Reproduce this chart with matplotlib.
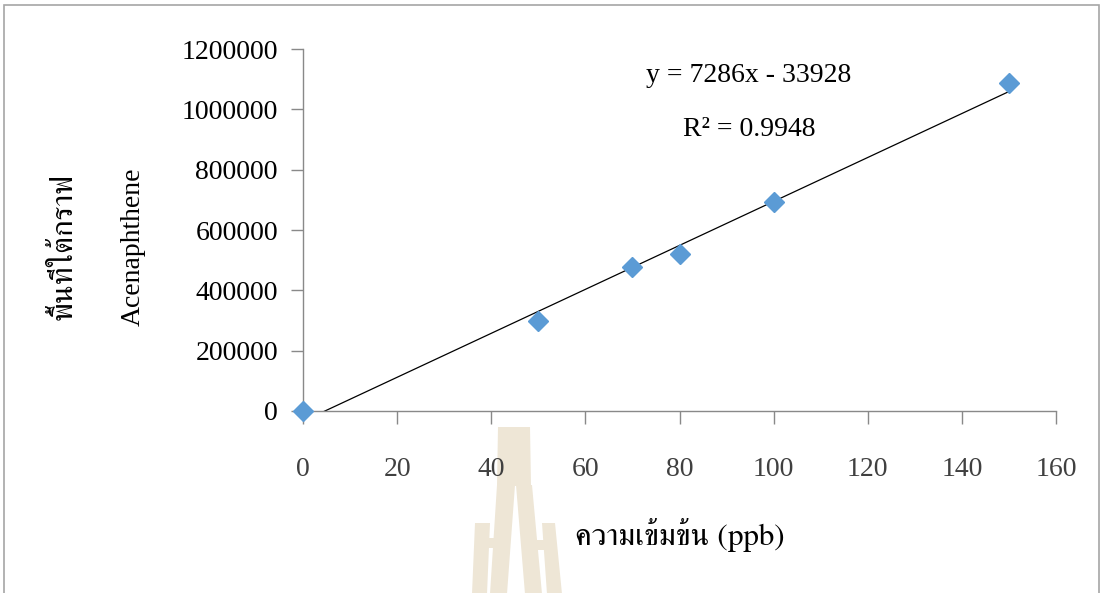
import matplotlib
matplotlib.use("Agg")
import matplotlib.pyplot as plt
from matplotlib.patches import Polygon, Rectangle

# calibration data: concentration (ppb) vs peak area
conc = [0, 50, 70, 80, 100, 150]
area = [0, 300000, 476000, 519000, 694000, 1087000]

# linear trendline as reported on the chart
slope = 7286
intercept = -33928
r2 = 0.9948

xticks = [0, 20, 40, 60, 80, 100, 120, 140, 160]
yticks = [0, 200000, 400000, 600000, 800000, 1000000, 1200000]

W, H = 1103, 593
fig = plt.figure(figsize=(W / 100, H / 100), dpi=100)
fig.set_facecolor("white")


def px(x, y):
    # pixel position (from top-left) -> figure fraction
    return (x / W, 1 - y / H)


# outer chart frame
fig.patches.append(Rectangle(px(4, 640), (1099 - 4) / W, (640 - 5) / H,
                             transform=fig.transFigure, fill=False,
                             edgecolor="#a6a6a6", linewidth=1.2))

# faint emblem behind the axis labels
tan = "#eee6d6"
emblem = [
    [(498, 427), (530, 427), (531, 486), (497, 486)],
    [(497, 485), (515, 485), (507, 594), (490, 594)],
    [(516, 485), (532, 485), (542, 594), (525, 594)],
    [(475, 523), (490, 523), (487, 594), (472, 594)],
    [(487, 538), (500, 538), (499, 548), (486, 548)],
    [(542, 523), (555, 523), (562, 594), (547, 594)],
    [(533, 540), (546, 540), (547, 550), (534, 550)],
]
for pts in emblem:
    fig.patches.append(Polygon([px(*p) for p in pts], closed=True,
                               transform=fig.transFigure, facecolor=tan,
                               edgecolor="none", zorder=-1))

ax = fig.add_axes([303 / W, 1 - 411 / H, (1056 - 303) / W, (411 - 49) / H])
ax.patch.set_alpha(0)

ax.plot(conc, area, linestyle="none", marker="D", markersize=10,
        color="#5b9bd5", zorder=3, clip_on=False)

fit_x = [0, 150]
fit_y = [slope * v + intercept for v in fit_x]
ax.plot(fit_x, fit_y, color="black", linewidth=0.9, zorder=2)

ax.set_xlim(0, 160)
ax.set_ylim(0, 1200000)
ax.set_xticks(xticks)
ax.set_yticks(yticks)
ax.set_xticklabels([str(v) for v in xticks])
ax.set_yticklabels([str(v) for v in yticks])

for s in ["top", "right"]:
    ax.spines[s].set_visible(False)
for s in ["left", "bottom"]:
    ax.spines[s].set_color("#898989")
    ax.spines[s].set_linewidth(1.0)

serif = ["Liberation Serif", "FreeSerif"]
ax.tick_params(axis="both", direction="out", length=9, width=1.0,
               color="#898989")
ax.tick_params(axis="y", pad=9, labelsize=20, labelcolor="black")
ax.tick_params(axis="x", pad=24, labelsize=20, labelcolor="#404040")
for lab in ax.get_xticklabels() + ax.get_yticklabels():
    lab.set_family(serif)

# trendline equation
fig.text(*px(749, 75), f"y = {slope}x - {abs(intercept)}", ha="center",
         va="center", fontsize=20, family=serif)
fig.text(*px(749, 130), f"R² = {r2}", ha="center", va="center",
         fontsize=20, family=serif)

# axis titles
fig.text(*px(680, 535), "ความเข้มข้น (ppb)", ha="center", va="center",
         fontsize=22.5, family=["FreeSerif"])
fig.text(*px(65, 247), "พื้นที่ใต้กราฟ", ha="center", va="center",
         rotation=90, fontsize=22.5, family=["FreeSerif"])
fig.text(*px(133, 247), "Acenaphthene", ha="center", va="center",
         rotation=90, fontsize=20, family=serif)

fig.savefig("out.png", dpi=100)
